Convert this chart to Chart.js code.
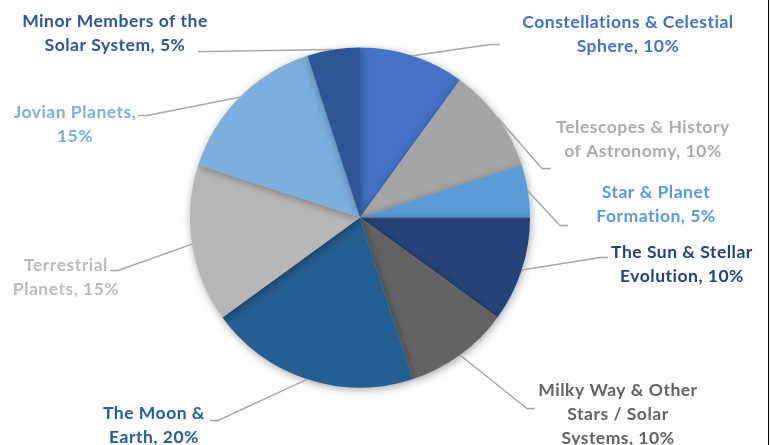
<!DOCTYPE html>
<html>
<head>
<meta charset="utf-8">
<script src="https://cdn.jsdelivr.net/npm/chart.js"></script>
<style>
  html, body { margin: 0; padding: 0; background: #fff; }
  #wrap { width: 770px; height: 445px; }
</style>
</head>
<body>
<div id="wrap"><canvas id="chart" width="770" height="445"></canvas></div>
<script>
const topics = [
    'Constellations & Celestial Sphere',
    'Telescopes & History of Astronomy',
    'Star & Planet Formation',
    'The Sun & Stellar Evolution',
    'Milky Way & Other Stars / Solar Systems',
    'The Moon & Earth',
    'Terrestrial Planets',
    'Jovian Planets',
    'Minor Members of the Solar System'
];
const shares = [10, 10, 5, 10, 10, 20, 15, 15, 5];
const sliceColors = ['#4472C4', '#A5A5A5', '#5B9BD5', '#264478', '#636363',
                     '#255E91', '#B7B7B7', '#7CAFDD', '#2F5597'];
const textColors = ['#4472C4', '#ABABAB', '#5B9BD5', '#264478', '#636363',
                    '#255E91', '#BBBBBB', '#7CAFDD', '#2F5597'];

// where each label's text breaks onto a new line (how many words go on each line)
const wrapCounts = [[3], [3], [3], [4], [4, 3], [3], [1], [2], [4]];

// label placement, relative to the pie centre: elbow, end of short tail, text centre/first line
const labelSpots = [
    { elbow: [130, -173], tail: [140, -173], text: [268, -195] },
    { elbow: [182, -49], tail: [191, -49], text: [283, -90] },
    { elbow: [200, 8], tail: [208, 8], text: [296, -25] },
    { elbow: [240, 40], tail: [248, 40], text: [322, 35] },
    { elbow: [167, 191], tail: [175, 191], text: [258, 173] },
    { elbow: [-142, 203], tail: [-150, 203], text: [-206, 196] },
    { elbow: [-242, 53], tail: [-250, 53], text: [-294, 48] },
    { elbow: [-213, -102], tail: [-222, -102], text: [-285, -105] },
    { elbow: [-152, -166], tail: [-162, -166], text: [-245, -196] }
];

function labelLines(i) {
    const words = (topics[i] + ', ' + shares[i] + '%').split(' ');
    const lines = [];
    let pos = 0;
    wrapCounts[i].forEach(function (n) {
        lines.push(words.slice(pos, pos + n).join(' '));
        pos += n;
    });
    if (pos < words.length) lines.push(words.slice(pos).join(' '));
    return lines;
}

const pieShadow = {
    id: 'pieShadow',
    beforeDatasetsDraw(chart) {
        const ctx = chart.ctx;
        ctx.save();
        ctx.shadowColor = 'rgba(0,0,0,0.35)';
        ctx.shadowBlur = 9;
        ctx.shadowOffsetX = 1;
        ctx.shadowOffsetY = 2;
    },
    afterDatasetsDraw(chart) {
        chart.ctx.restore();
    }
};

const outsideLabels = {
    id: 'outsideLabels',
    afterDatasetsDraw(chart) {
        const ctx = chart.ctx;
        const arcs = chart.getDatasetMeta(0).data;
        ctx.save();
        arcs.forEach(function (arc, i) {
            const p = arc.getProps(['x', 'y', 'startAngle', 'endAngle', 'outerRadius'], true);
            const mid = (p.startAngle + p.endAngle) / 2;
            const sx = p.x + Math.cos(mid) * p.outerRadius;
            const sy = p.y + Math.sin(mid) * p.outerRadius;
            const spot = labelSpots[i];

            ctx.beginPath();
            ctx.moveTo(sx, sy);
            ctx.lineTo(p.x + spot.elbow[0], p.y + spot.elbow[1]);
            ctx.lineTo(p.x + spot.tail[0], p.y + spot.tail[1]);
            ctx.strokeStyle = '#A6A6A6';
            ctx.lineWidth = 1.5;
            ctx.stroke();

            ctx.fillStyle = textColors[i];
            ctx.font = 'bold 17.5px Lato';
            ctx.letterSpacing = '0.5px';
            ctx.textAlign = 'center';
            ctx.textBaseline = 'middle';
            labelLines(i).forEach(function (line, k) {
                ctx.fillText(line, p.x + spot.text[0], p.y + spot.text[1] + k * 24);
            });
        });

        // thin frame edge on the right
        ctx.beginPath();
        ctx.moveTo(768.5, 0);
        ctx.lineTo(768.5, chart.height);
        ctx.strokeStyle = '#000';
        ctx.lineWidth = 1;
        ctx.stroke();
        ctx.restore();
    }
};

new Chart(document.getElementById('chart'), {
    type: 'pie',
    data: {
        labels: topics,
        datasets: [{
            data: shares,
            backgroundColor: sliceColors,
            borderWidth: 0
        }]
    },
    options: {
        responsive: false,
        animation: false,
        events: [],
        layout: {
            padding: { top: 47, bottom: 57, left: 190, right: 240 }
        },
        plugins: {
            legend: { display: false },
            tooltip: { enabled: false }
        }
    },
    plugins: [pieShadow, outsideLabels]
});
</script>
</body>
</html>
